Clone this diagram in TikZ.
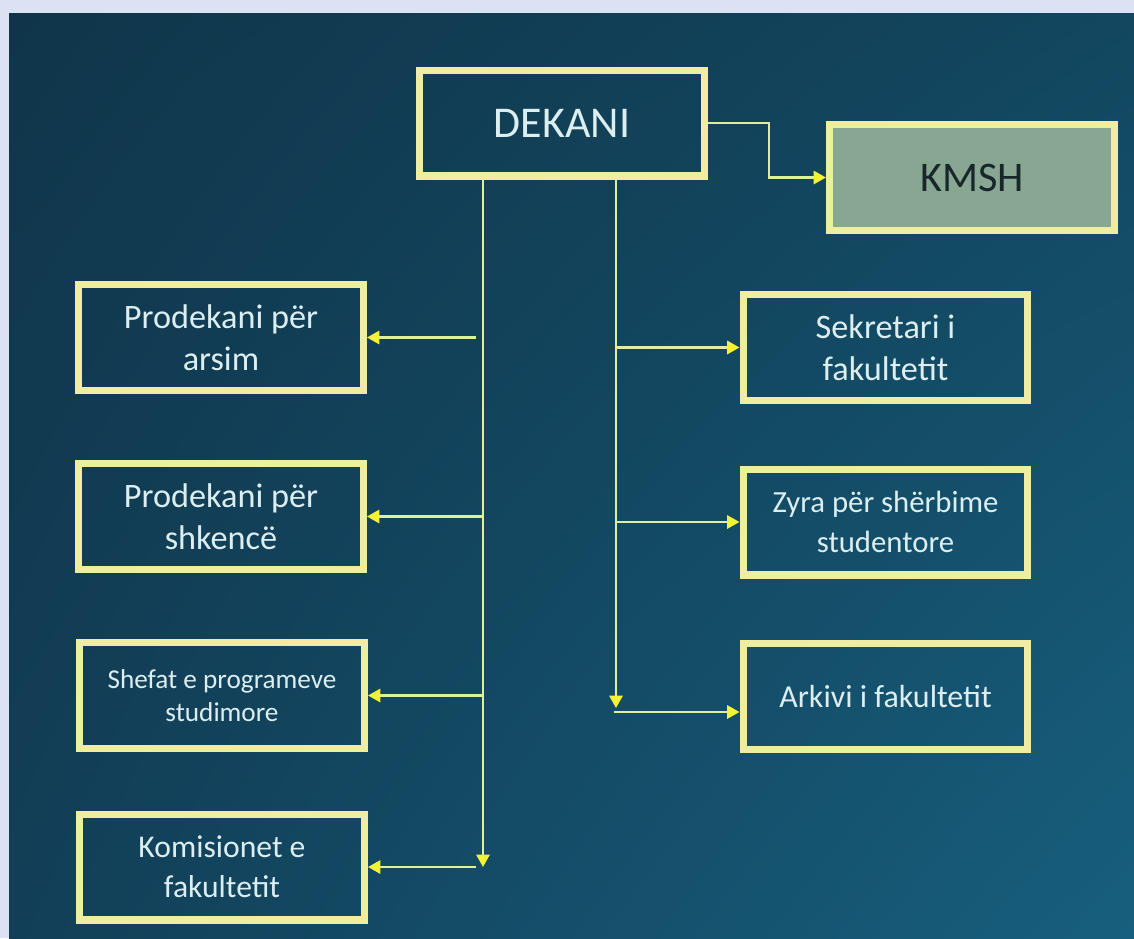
\documentclass[tikz,border=0pt]{standalone}
\usepackage{fontspec}
\setmainfont{Carlito}
\usetikzlibrary{arrows.meta,shadings}
\definecolor{framebg}{HTML}{DAE2F3}
\definecolor{panelul}{HTML}{10354A}
\definecolor{panelur}{HTML}{12475F}
\definecolor{panelll}{HTML}{123F57}
\definecolor{panellr}{HTML}{175F7E}
\definecolor{boxline}{HTML}{EFEDA0}
\definecolor{linecol}{HTML}{E0EEA0}
\definecolor{tipcol}{HTML}{F4F236}
\definecolor{boxtext}{HTML}{DCEEF0}
\definecolor{kmshfill}{HTML}{88A793}
\definecolor{kmshtext}{HTML}{18282A}
\begin{document}
\begin{tikzpicture}[x=0.02cm,y=-0.02cm,
  box/.style={draw=boxline,line width=4pt,minimum width=5.7cm,minimum height=2.12cm,
    align=center,text=boxtext,inner sep=2pt,font={\fontsize{19.5}{23.8}\selectfont}},
  conn/.style={draw=linecol,line width=1.3pt,-{Triangle[length=7pt,width=7.5pt,color=tipcol]}}]
% background
\fill[framebg] (0,0) rectangle (1134,938);
\shade[upper left=panelul,upper right=panelur,lower left=panelll,lower right=panellr] (9,13) rectangle (1134,938);
% boxes
\node[box,font={\fontsize{25}{30}\selectfont}] (dekani) at (562,123) {DEKANI};
\node[box,fill=kmshfill,text=kmshtext,font={\fontsize{24}{29}\selectfont}] (kmsh) at (972,177.5) {KMSH};
\node[box] (arsim) at (221,337.5) {Prodekani për\\arsim};
\node[box] (shkence) at (221,516.5) {Prodekani për\\shkencë};
\node[box,font={\fontsize{15.5}{18.7}\selectfont}] (shefat) at (222,695.5) {Shefat e programeve\\studimore};
\node[box,font={\fontsize{18}{22.7}\selectfont}] (komis) at (222,867) {Komisionet e\\fakultetit};
\node[box] (sekret) at (885.5,347.5) {Sekretari i\\fakultetit};
\node[box,font={\fontsize{17.5}{23}\selectfont}] (zyra) at (885.5,522) {Zyra për shërbime\\studentore};
\node[box,font={\fontsize{18.2}{22}\selectfont}] (arkivi) at (885.5,696.5) {Arkivi i fakultetit};
% connectors
\coordinate (lbot) at (483,867);
\coordinate (rbot) at (616,708);
\coordinate (rjoin) at (614,712);
\draw[conn] (dekani.east) -- ++(61,0) |- (kmsh.west);
\draw[conn] (dekani.south -| lbot) -- (lbot);
\draw[conn] (dekani.south -| rbot) -- (rbot);
\draw[conn] ([xshift=-0.14cm]lbot |- arsim.east) -- (arsim.east);
\draw[conn] (lbot |- shkence.east) -- (shkence.east);
\draw[conn] (lbot |- shefat.east) -- (shefat.east);
\draw[conn] ([xshift=-0.14cm]lbot |- komis.east) -- (komis.east);
\draw[conn] (rbot |- sekret.west) -- (sekret.west);
\draw[conn] (rbot |- zyra.west) -- (zyra.west);
\draw[conn] (rjoin) -- (rjoin -| arkivi.west);
\end{tikzpicture}
\end{document}
